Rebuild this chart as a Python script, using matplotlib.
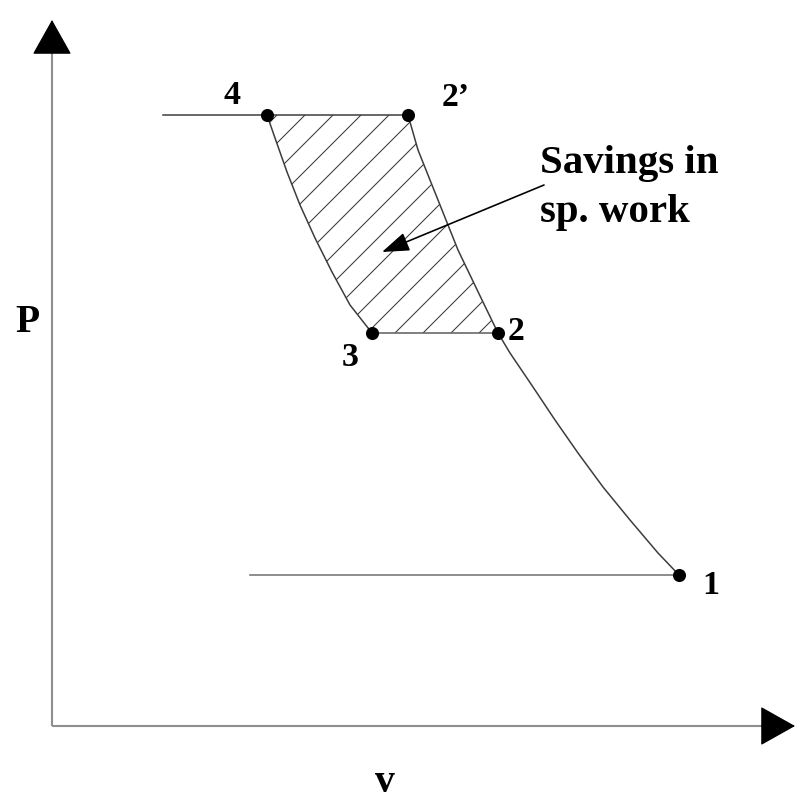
import matplotlib.pyplot as plt

#data (v, P in sketch units, origin at axis corner)
state_names = ['1', '2', '2\u2019', '3', '4']
state_v = [6.27, 4.46, 3.56, 3.20, 2.15]
state_P = [1.51, 3.93, 6.11, 3.93, 6.11]

#compression 1 -> 2 -> 2'
comp_v = [6.27, 6.06, 5.78, 5.51, 5.26, 5.03, 4.81, 4.58, 4.46,
          4.30, 4.06, 3.86, 3.66, 3.56]
comp_P = [1.51, 1.73, 2.06, 2.39, 2.73, 3.06, 3.39, 3.73, 3.93,
          4.26, 4.76, 5.26, 5.76, 6.11]

#compression after intercooling 3 -> 4
ic_v = [3.20, 2.98, 2.80, 2.63, 2.48, 2.35, 2.23, 2.15]
ic_P = [3.93, 4.21, 4.54, 4.88, 5.21, 5.54, 5.88, 6.11]

#isobars
hi_v = [1.11, 3.56]
hi_P = [6.11, 6.11]
mid_v = [3.20, 4.46]
mid_P = [3.93, 3.93]
lo_v = [1.98, 6.27]
lo_P = [1.51, 1.51]

#label spots
lab_v = [6.59, 4.64, 4.04, 2.98, 1.80]
lab_P = [1.40, 3.95, 6.29, 3.68, 6.31]

plt.rcParams['hatch.linewidth'] = 0.45
fnt = 'Liberation Serif'

fig = plt.figure(figsize=(4.75, 808/168))
ax = fig.add_axes([0, 0, 1, 1])
ax.set_xlim(-0.52, 7.46)
ax.set_ylim(-0.82, 7.26)
ax.axis('off')

#axes with arrows
axc = '#8f8f8f'
ax.plot([0, 0], [0, 6.76], color=axc, lw=0.9, solid_capstyle='butt')
ax.plot([0, 7.12], [0, 0], color=axc, lw=0.9, solid_capstyle='butt')
ax.annotate('', xy=(0, 7.06), xytext=(0, 6.74),
            arrowprops=dict(arrowstyle='-|>,head_length=1.37,head_width=0.77',
                            mutation_scale=10, color='black', lw=0.5,
                            shrinkA=0, shrinkB=0))
ax.annotate('', xy=(7.43, 0), xytext=(7.10, 0),
            arrowprops=dict(arrowstyle='-|>,head_length=1.37,head_width=0.77',
                            mutation_scale=10, color='black', lw=0.5,
                            shrinkA=0, shrinkB=0))

#hatched area 2 -> 2' -> 4 -> 3
poly_v = comp_v[8:] + ic_v[::-1]
poly_P = comp_P[8:] + ic_P[::-1]
ax.fill(poly_v, poly_P, facecolor='none', edgecolor='#383838', lw=0, hatch='//')

#process lines
lc = '#3c3c3c'
ax.plot(comp_v, comp_P, color=lc, lw=0.65)
ax.plot(ic_v, ic_P, color=lc, lw=0.65)
ax.plot(hi_v, hi_P, color=lc, lw=0.65)
ax.plot(mid_v, mid_P, color='#666666', lw=0.7)
ax.plot(lo_v, lo_P, color='#777777', lw=0.7)

#state points
ax.plot(state_v, state_P, 'o', color='black', ms=4.6, zorder=5)
for name, x, y in zip(state_names, lab_v, lab_P):
    ax.text(x, y, name, fontsize=14.5, fontweight='bold', family=fnt,
            ha='center', va='center')

#annotation
ax.annotate('', xy=(3.30, 4.74), xytext=(4.92, 5.41),
            arrowprops=dict(arrowstyle='-|>,head_length=1.0,head_width=0.35',
                            mutation_scale=10, color='black', lw=0.7,
                            shrinkA=0, shrinkB=0))
ax.text(4.88, 5.53, 'Savings in', fontsize=17.5, fontweight='bold',
        family=fnt, ha='left', va='baseline')
ax.text(4.88, 5.04, 'sp. work', fontsize=17.5, fontweight='bold',
        family=fnt, ha='left', va='baseline')

#axis labels
ax.text(-0.25, 4.03, 'P', fontsize=17, fontweight='bold', family=fnt,
        ha='center', va='center')
ax.text(3.33, -0.56, 'v', fontsize=17, fontweight='bold', family=fnt,
        ha='center', va='center')

plt.savefig('out.png', dpi=168, facecolor='white')
